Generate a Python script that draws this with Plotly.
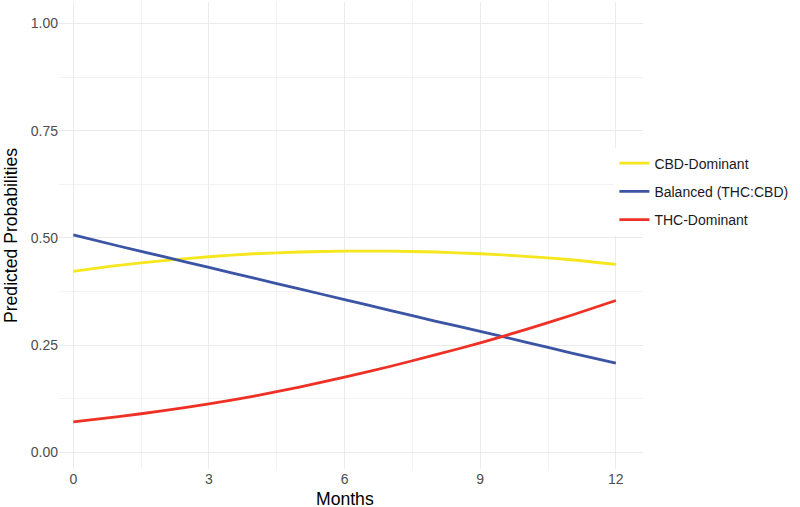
import plotly.graph_objects as go

months = [0, 1, 2, 3, 4, 5, 6, 7, 8, 9, 10, 11, 12]
cbd_dominant = [0.422, 0.436, 0.447, 0.456, 0.463, 0.467, 0.469, 0.469, 0.467, 0.463, 0.457, 0.449, 0.438]
balanced = [0.507, 0.481, 0.456, 0.431, 0.406, 0.381, 0.356, 0.331, 0.306, 0.282, 0.257, 0.232, 0.208]
thc_dominant = [0.071, 0.083, 0.097, 0.113, 0.131, 0.152, 0.175, 0.200, 0.227, 0.255, 0.286, 0.319, 0.354]

series_names = ["CBD-Dominant", "Balanced (THC:CBD)", "THC-Dominant"]
series_values = [cbd_dominant, balanced, thc_dominant]
series_colors = ["#F5E61E", "#3B54A4", "#EE3124"]

x_ticks = [0, 3, 6, 9, 12]
y_ticks = [0, 0.25, 0.5, 0.75, 1.0]
y_tick_labels = ["0.00", "0.25", "0.50", "0.75", "1.00"]

FONT = "Liberation Sans, Arial, Helvetica, sans-serif"
GRID = "#EBEBEB"
MINOR = "#F3F3F3"

fig = go.Figure()
for name, vals, col in zip(series_names, series_values, series_colors):
    fig.add_trace(go.Scatter(
        x=months, y=vals, mode="lines", name=name, legendgroup=name,
        line=dict(color=col, width=2.8, shape="spline", smoothing=0.6),
    ))

# white legend backdrop over the grid (as ggplot's legend box)
fig.add_shape(type="rect", xref="x", yref="y", x0=11.87, x1=13, y0=0.458, y1=0.756,
              fillcolor="white", line=dict(width=0), layer="below")

# x-axis title
fig.add_annotation(text="Months", xref="paper", yref="paper", x=0.4889, y=-0.0642,
                   xanchor="center", yanchor="middle", showarrow=False,
                   font=dict(family=FONT, size=17.6, color="black"))

fig.update_layout(
    width=800, height=507,
    margin=dict(l=59, r=157, t=2, b=38),
    paper_bgcolor="white", plot_bgcolor="white",
    font=dict(family=FONT, size=14, color="#4D4D4D"),
    showlegend=True,
    legend=dict(
        x=0.951, xanchor="left", xref="paper",
        y=0.594, yanchor="middle",
        bgcolor="rgba(255,255,255,1)",
        font=dict(family=FONT, size=14, color="#1A1A1A"),
        traceorder="grouped", tracegroupgap=7,
        title=dict(text=""),
    ),
    xaxis=dict(
        range=[-0.316, 12.6], tickvals=x_ticks, ticktext=[str(t) for t in x_ticks],
        showgrid=True, gridcolor=GRID, gridwidth=1.1,
        minor=dict(tickvals=[1.5, 4.5, 7.5, 10.5], showgrid=True, gridcolor=MINOR, gridwidth=0.7),
        zeroline=False, showline=False, ticks="",
        tickfont=dict(size=14, color="#4D4D4D"),
        automargin=False,
    ),
    yaxis=dict(
        range=[-0.039, 1.05], tickvals=y_ticks, ticktext=y_tick_labels,
        showgrid=True, gridcolor=GRID, gridwidth=1.1,
        minor=dict(tickvals=[0.125, 0.375, 0.625, 0.875], showgrid=True, gridcolor=MINOR, gridwidth=0.7),
        zeroline=False, showline=False, ticks="",
        tickfont=dict(size=14, color="#4D4D4D"),
        title=dict(text="Predicted Probabilities", font=dict(size=17.6, color="black"), standoff=8),
        automargin=False,
    ),
)

fig.write_html("out.html", config={"displayModeBar": False},
               post_script="document.body.style.margin='0';document.body.style.overflow='hidden';")
